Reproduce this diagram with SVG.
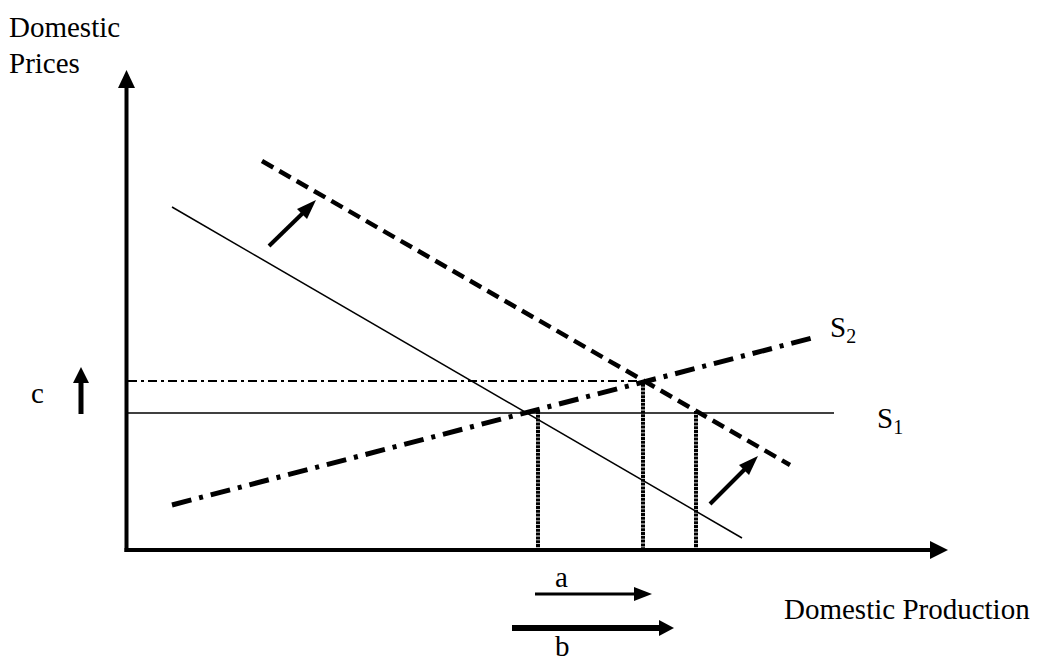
<svg xmlns="http://www.w3.org/2000/svg" width="1042" height="663" viewBox="0 0 1042 663">
<defs>
<style>
text{font-family:"Liberation Serif","Times New Roman",serif;fill:#000;font-size:29px}
.sub{font-size:20px}
.ax{stroke:#000;stroke-width:4;fill:none}
.thin{stroke:#000;stroke-width:1.5;fill:none}
.dd{stroke:#000;stroke-width:2;fill:none;stroke-dasharray:9 4 3 4}
.demand2{stroke:#000;stroke-width:4.5;fill:none;stroke-dasharray:13 7}
.supply2{stroke:#000;stroke-width:5;fill:none;stroke-dasharray:20 8 4 8}
.vert{stroke:#000;stroke-width:4;fill:none;stroke-dasharray:3 0.8}
.arr{stroke:#000;fill:none}
</style>
</defs>
<g id="axes">
<line class="ax" x1="126.5" y1="552" x2="126.5" y2="84"/>
<polygon points="126.5,70 118,88 135,88" fill="#000"/>
<line class="ax" x1="124.5" y1="550" x2="933" y2="550"/>
<polygon points="948,550 930,541 930,559" fill="#000"/>
</g>
<g id="labels">
<text x="9" y="37">Domestic</text>
<text x="9" y="73">Prices</text>
<text x="784" y="619">Domestic Production</text>
<text x="830" y="337">S<tspan class="sub" dy="6">2</tspan></text>
<text x="877" y="428">S<tspan class="sub" dy="6">1</tspan></text>
<text x="31" y="403">c</text>
<text x="555" y="587">a</text>
<text x="555" y="656">b</text>
</g>
<g id="curves">
<line class="thin" x1="128" y1="413" x2="834" y2="413"/>
<line class="dd" x1="128" y1="381" x2="643" y2="381"/>
<line class="thin" x1="172" y1="207" x2="742" y2="538"/>
<line class="demand2" x1="262" y1="161" x2="790" y2="465"/>
<line class="supply2" x1="172" y1="505" x2="812" y2="338"/>
</g>
<g id="droplines">
<line class="vert" x1="538" y1="411" x2="538" y2="549"/>
<line class="vert" x1="643" y1="380" x2="643" y2="549"/>
<line class="vert" x1="696" y1="411" x2="696" y2="549"/>
</g>
<g id="connectors">
<line class="arr" stroke-width="4" x1="269" y1="246" x2="305" y2="211"/>
<polygon points="316,200 297,209 307,219" fill="#000"/>
<line class="arr" stroke-width="4" x1="710" y1="504" x2="747" y2="467"/>
<polygon points="758,456 739,465 749,475" fill="#000"/>
<line class="arr" stroke-width="5" x1="81" y1="414" x2="81" y2="380"/>
<polygon points="81,367 73,383 89,383" fill="#000"/>
<line class="arr" stroke-width="3" x1="535" y1="594" x2="636" y2="594"/>
<polygon points="652,594 634,587 634,601" fill="#000"/>
<line class="arr" stroke-width="6" x1="512" y1="628" x2="661" y2="628"/>
<polygon points="674,628 659,620 659,636" fill="#000"/>
</g>
</svg>
